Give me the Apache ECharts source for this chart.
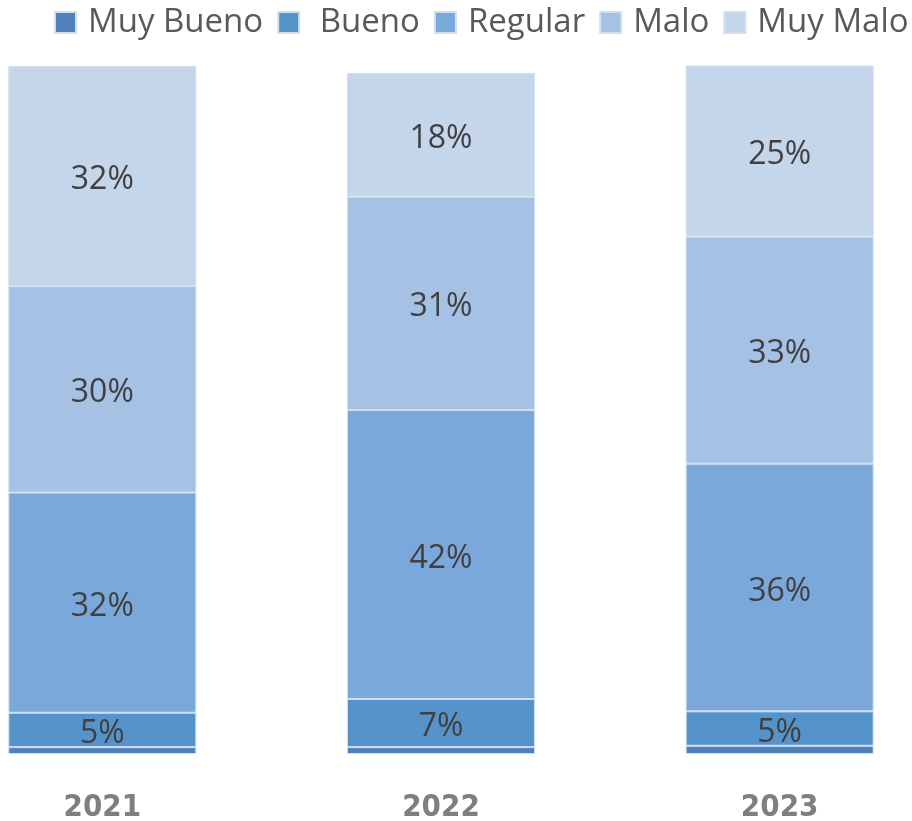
<!DOCTYPE html>
<html>
<head>
<meta charset="utf-8">
<script src="https://cdn.jsdelivr.net/npm/echarts@6/dist/echarts.min.js"></script>
<style>
html,body{margin:0;padding:0;background:#fff;}
#chart{width:912px;height:821px;}
</style>
</head>
<body>
<div id="chart"></div>
<script>
const categories = ['2021', '2022', '2023'];
const seriesNames = ['Muy Bueno', ' Bueno', 'Regular', 'Malo', 'Muy Malo'];
const muyBueno = [1, 1, 1.2];
const bueno = [5, 7, 5];
const regular = [32, 42, 36];
const malo = [30, 31, 33];
const muyMalo = [32, 18, 25];
const values = [muyBueno, bueno, regular, malo, muyMalo];
const colors = ['#4e81b9', '#5593cb', '#7ba8da', '#a5c1e4', '#c5d5ea'];
const showLabel = [false, true, true, true, true];

const chart = echarts.init(document.getElementById('chart'));
chart.setOption({
  animation: false,
  legend: {
    top: 6,
    left: 54,
    width: 858,
    padding: 0,
    itemWidth: 21,
    itemHeight: 21,
    itemGap: 14,
    icon: 'rect',
    textStyle: { fontFamily: 'Open Sans', fontSize: 33, color: '#595959', padding: [0, 0, 0, 7] },
    data: seriesNames
  },
  grid: { left: -67, right: -37, top: 66, bottom: 67, outerBoundsMode: 'none', containLabel: false },
  xAxis: {
    type: 'category',
    data: categories,
    axisLine: { show: false },
    axisTick: { show: false },
    axisLabel: {
      margin: 38,
      fontFamily: 'DejaVu Sans Condensed',
      fontWeight: 'bold',
      fontSize: 31,
      color: '#7f7f7f'
    }
  },
  yAxis: { type: 'value', min: 0, max: 100, show: false, splitLine: { show: false } },
  series: seriesNames.map((n, i) => ({
    name: n,
    type: 'bar',
    stack: 'total',
    barWidth: 188,
    data: values[i],
    itemStyle: { color: colors[i], borderColor: '#cfdff0', borderWidth: 1 },
    label: {
      show: showLabel[i],
      position: 'inside',
      offset: [0, 4],
      formatter: p => Math.round(p.value) + '%',
      fontFamily: 'Open Sans',
      fontSize: 32,
      color: '#404040'
    }
  }))
});
</script>
</body>
</html>
